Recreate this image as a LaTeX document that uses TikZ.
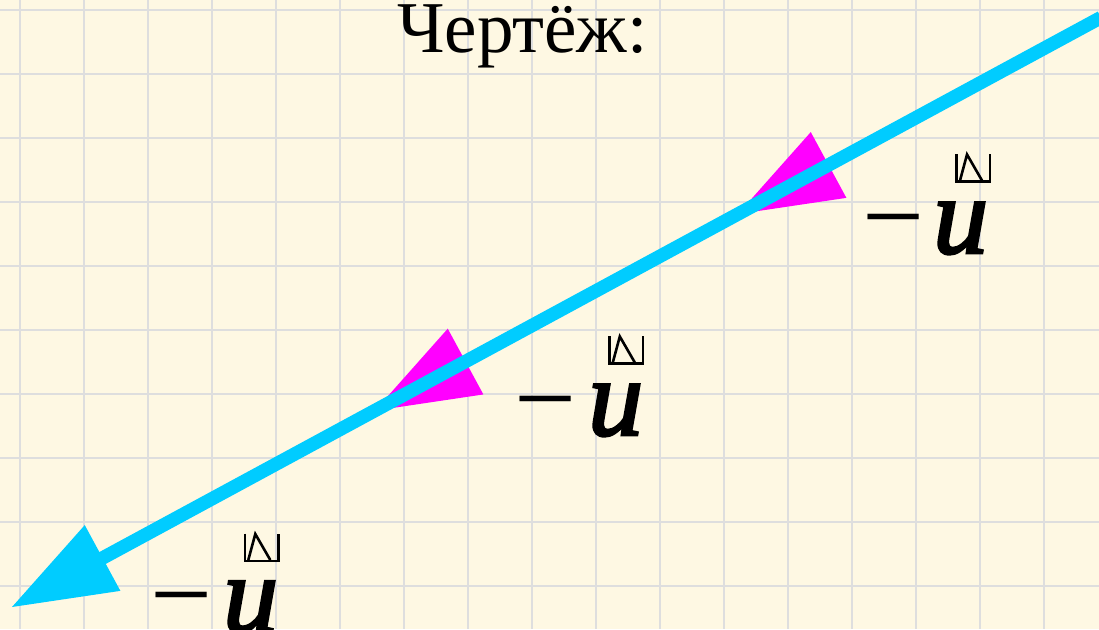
\documentclass[tikz,border=0pt]{standalone}
\usepackage{fontspec}
\setmainfont{Liberation Serif}
\newfontfamily\ufam[FakeBold=2.5, ItalicFeatures={FakeBold=2.5}]{Liberation Serif}
\usetikzlibrary{calc}
\definecolor{paper}{RGB}{254,248,227}
\definecolor{gridc}{RGB}{222,222,222}
\definecolor{vcyan}{RGB}{0,204,255}
\definecolor{vmag}{RGB}{255,0,255}
\tikzset{
  title/.style={inner sep=0pt, anchor=base west, font=\fontsize{73}{80}\selectfont},
  labminus/.style={inner sep=0pt, anchor=base west, font=\fontsize{110}{120}\selectfont},
  labu/.style={inner sep=0pt, anchor=base west, font=\ufam\fontsize{110}{120}\selectfont\itshape},
  gridline/.style={draw=gridc, line width=2pt},
  shaft/.style={draw=vcyan, line width=13.5pt, line cap=butt},
  headmag/.style={fill=vmag},
  headcyan/.style={fill=vcyan},
  accentglyph/.pic={
    \draw[line width=2.6pt, line cap=butt, line join=miter] (0,0) -- (0,27.5) -- (33.3,27.5) -- (33.3,0);
    \draw[line width=2.6pt] (3.3,26.5) -- (10.3,0.5) -- (25.3,26.5);
  }
}
\begin{document}
\begin{tikzpicture}[x=1pt,y=-1pt]
\useasboundingbox (0,0) rectangle (1099,629);
\clip (0,0) rectangle (1099,629);
\fill[paper] (0,0) rectangle (1099,629);
% grid
\foreach \i in {0,...,16} { \draw[gridline] ({20+64*\i},0) -- ({20+64*\i},629); }
\foreach \j in {0,...,9} { \draw[gridline] (0,{9.5+64*\j}) -- (1099,{9.5+64*\j}); }
% chain points
\coordinate (S) at (1101,17.5);
\coordinate (A) at (738,214);
\coordinate (B) at (375,410.6);
\coordinate (T) at (12,607);
% magenta heads at A and B
\foreach \p/\q in {A/S, B/A} {
  \coordinate (bc) at ($(\p)!103pt!(\q)$);
  \fill[headmag] (\p) -- ($(bc)!37.4pt!90:(\p)$) -- ($(bc)!37.4pt!-90:(\p)$) -- cycle;
}
% cyan shaft and head
\coordinate (Tb) at ($(T)!95pt!(S)$);
\draw[shaft] (S) -- (Tb);
\coordinate (tc) at ($(T)!103pt!(S)$);
\fill[headcyan] (T) -- ($(tc)!37.4pt!90:(T)$) -- ($(tc)!37.4pt!-90:(T)$) -- cycle;
% title
\node[title] (ttl) at (397,52) {Чертёж:};
% labels
\node[labminus] (m1) at (862,253) {−};
\node[labu] (u1) at (933,253) {u};
\pic at (956.7,154) {accentglyph};
\node[labminus] (m2) at (514.5,435) {−};
\node[labu] (u2) at (588,435) {u};
\pic at (609.5,336) {accentglyph};
\node[labminus] (m3) at (150.5,631.7) {−};
\node[labu] (u3) at (223,631.7) {u};
\pic at (245,533.5) {accentglyph};
\end{tikzpicture}
\end{document}
